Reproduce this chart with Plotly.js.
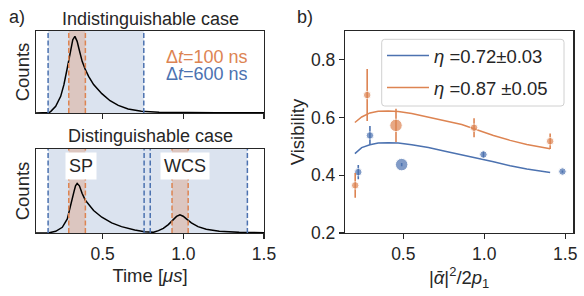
<!DOCTYPE html>
<html><head><meta charset="utf-8">
<script src="https://cdn.plot.ly/plotly-3.0.1.min.js"></script>
<style>html,body{margin:0;padding:0;background:#fff}#chart{width:584px;height:296px}</style>
</head><body><div id="chart"></div><script>
// ---- Panel a) top: indistinguishable case (normalised counts) ----
var timeTop   = [0.087, 0.15, 0.169, 0.179, 0.209, 0.24, 0.26, 0.281, 0.301, 0.315, 0.328, 0.342, 0.352, 0.373, 0.393, 0.413, 0.444, 0.495, 0.546, 0.597, 0.658, 0.74, 0.85, 1.0, 1.2, 1.5];
var countsTop = [0.0, 0.0, 0.005, 0.02, 0.081, 0.203, 0.346, 0.549, 0.752, 0.894, 0.935, 0.874, 0.793, 0.63, 0.528, 0.447, 0.346, 0.236, 0.15, 0.093, 0.049, 0.02, 0.009, 0.005, 0.003, 0.002];
// ---- Panel a) bottom: distinguishable case ----
var timeBottom   = [0.087, 0.15, 0.169, 0.209, 0.25, 0.281, 0.301, 0.322, 0.332, 0.342, 0.356, 0.373, 0.393, 0.413, 0.444, 0.495, 0.556, 0.617, 0.699, 0.76, 0.79, 0.815, 0.846, 0.876, 0.907, 0.938, 0.958, 0.979, 0.999, 1.019, 1.05, 1.091, 1.142, 1.223, 1.346, 1.5];
var countsBottom = [0.0, 0.0, 0.003, 0.02, 0.068, 0.168, 0.309, 0.49, 0.562, 0.59, 0.562, 0.47, 0.389, 0.337, 0.268, 0.188, 0.12, 0.076, 0.036, 0.016, 0.009, 0.008, 0.028, 0.056, 0.1, 0.156, 0.197, 0.217, 0.2, 0.168, 0.12, 0.076, 0.044, 0.02, 0.008, 0.004];
// integration windows [start, end] in µs
var win100Top = [[0.29, 0.393]];
var win600Top = [[0.162, 0.755]];
var win100Bottom = [[0.29, 0.393], [0.93, 1.03]];
var win600Bottom = [[0.162, 0.757], [0.795, 1.397]];
var windowLabels = ['SP', 'WCS'];

// ---- Panel b): visibility ----
var alphaBlue   = [0.222, 0.294, 0.49, 0.995, 1.483];
var visBlue     = [0.411, 0.538, 0.437, 0.472, 0.413];
var errBlue     = [0.025, 0.033, 0.006, 0.01, 0.004];
var alphaOrange = [0.203, 0.277, 0.455, 0.937, 1.407];
var visOrange   = [0.365, 0.678, 0.573, 0.565, 0.518];
var errOrange   = [0.043, 0.09, 0.058, 0.033, 0.027];
var fitX        = [0.201, 0.243, 0.294, 0.345, 0.407, 0.469, 0.552, 0.655, 0.758, 0.861, 0.954, 1.057, 1.16, 1.263, 1.407];
var fitBlue     = [0.475, 0.496, 0.506, 0.512, 0.513, 0.512, 0.506, 0.496, 0.483, 0.471, 0.461, 0.447, 0.433, 0.422, 0.41];
var fitOrange   = [0.583, 0.602, 0.616, 0.622, 0.623, 0.621, 0.614, 0.602, 0.588, 0.576, 0.558, 0.538, 0.521, 0.507, 0.492];
var fitNames    = ['<i>η</i> =0.72±0.03', '<i>η</i> =0.87 ±0.05'];

var BLUE = '#4C72B0', ORANGE = '#DD8452', INK = '#262626';
var FONT = 'Arial, "Liberation Sans", sans-serif';
var W = 584, H = 296;
function px(x){return x / W;}
function py(y){return 1 - y / H;}

var traces = [
  {x: timeTop, y: countsTop, xaxis: 'x', yaxis: 'y', mode: 'lines', line: {color: '#000', width: 1.5}, showlegend: false, hoverinfo: 'skip'},
  {x: timeBottom, y: countsBottom, xaxis: 'x2', yaxis: 'y2', mode: 'lines', line: {color: '#000', width: 1.5}, showlegend: false, hoverinfo: 'skip'},
  {x: fitX, y: fitBlue, xaxis: 'x3', yaxis: 'y3', mode: 'lines', line: {color: BLUE, width: 1.5}, name: fitNames[0], legendgroup: 'a'},
  {x: fitX, y: fitOrange, xaxis: 'x3', yaxis: 'y3', mode: 'lines', line: {color: ORANGE, width: 1.5}, name: fitNames[1], legendgroup: 'b'},
  {x: alphaBlue, y: visBlue, xaxis: 'x3', yaxis: 'y3', mode: 'markers', showlegend: false,
   marker: {color: BLUE, size: alphaBlue.map(function(v,i){return i===2?12.5:7.5;})},
   error_y: {type: 'data', array: errBlue, color: BLUE, thickness: 1.6, width: 0}},
  {x: alphaOrange, y: visOrange, xaxis: 'x3', yaxis: 'y3', mode: 'markers', showlegend: false,
   marker: {color: ORANGE, size: alphaOrange.map(function(v,i){return i===2?12.5:7.5;})},
   error_y: {type: 'data', array: errOrange, color: ORANGE, thickness: 1.6, width: 0}}
];

var shapes = [];
function addWindows(wins, color, opacity, yref, xref){
  wins.forEach(function(w){
    shapes.push({type: 'rect', xref: xref, yref: yref + ' domain', x0: w[0], x1: w[1], y0: 0, y1: 1,
      fillcolor: color, opacity: opacity, line: {width: 0}, layer: 'below'});
  });
}
function addEdges(wins, color, yref, xref){
  wins.forEach(function(w){
    [w[0], w[1]].forEach(function(e){
      shapes.push({type: 'line', xref: xref, yref: yref + ' domain', x0: e, x1: e, y0: 0, y1: 1,
        line: {color: color, width: 1.5, dash: '5px,2.5px'}, layer: 'above'});
    });
  });
}
addWindows(win600Top, BLUE, 0.2, 'y', 'x');
addWindows(win100Top, ORANGE, 0.3, 'y', 'x');
// bottom: blue shading spans both 600 ns windows contiguously
addWindows([[win600Bottom[0][0], win600Bottom[1][1]]], BLUE, 0.2, 'y2', 'x2');
addWindows(win100Bottom, ORANGE, 0.3, 'y2', 'x2');
addEdges(win600Top, BLUE, 'y', 'x');
addEdges(win100Top, ORANGE, 'y', 'x');
addEdges(win600Bottom, BLUE, 'y2', 'x2');
addEdges(win100Bottom, ORANGE, 'y2', 'x2');

// rounded legend frame (matplotlib fancybox look)
(function(){
  var x0 = px(381.7), x1 = px(564), y0 = py(106), y1 = py(39.3), rx = 3 / W, ry = 3 / H;
  var p = 'M' + (x0 + rx) + ',' + y1 + ' L' + (x1 - rx) + ',' + y1 + ' Q' + x1 + ',' + y1 + ' ' + x1 + ',' + (y1 - ry) +
          ' L' + x1 + ',' + (y0 + ry) + ' Q' + x1 + ',' + y0 + ' ' + (x1 - rx) + ',' + y0 +
          ' L' + (x0 + rx) + ',' + y0 + ' Q' + x0 + ',' + y0 + ' ' + x0 + ',' + (y0 + ry) +
          ' L' + x0 + ',' + (y1 - ry) + ' Q' + x0 + ',' + y1 + ' ' + (x0 + rx) + ',' + y1 + ' Z';
  shapes.push({type: 'path', xref: 'paper', yref: 'paper', path: p, fillcolor: 'rgba(255,255,255,0.8)',
    line: {color: '#d0d0d0', width: 1}, layer: 'above'});
})();

var TICK = 17.5, LAB = 18.5;
function boxAxis(extra){
  var a = {showline: true, mirror: true, linecolor: INK, linewidth: 1.25, showgrid: false, zeroline: false,
    ticks: 'outside', ticklen: 5, tickwidth: 1.25, tickcolor: INK,
    tickfont: {family: FONT, size: TICK, color: INK}};
  for (var k in extra) a[k] = extra[k];
  return a;
}
function ttl(t, s){ return {text: t, font: {family: FONT, size: LAB, color: INK}, standoff: s}; }
var leftX = [px(36), px(264)];
var layout = {
  width: W, height: H, margin: {l: 0, r: 0, t: 0, b: 0},
  paper_bgcolor: '#fff', plot_bgcolor: '#fff',
  font: {family: FONT, color: INK},
  showlegend: true,
  legend: {x: px(382), y: py(37), xanchor: 'left', yanchor: 'top', bgcolor: 'rgba(0,0,0,0)',
    borderwidth: 0, font: {family: FONT, size: 18.5, color: INK},
    traceorder: 'grouped', tracegroupgap: 5, itemwidth: 42},
  xaxis: boxAxis({domain: leftX, anchor: 'y', range: [0.087, 1.5], tickvals: [0.5, 1.0, 1.5], showticklabels: false}),
  yaxis: boxAxis({domain: [py(113), py(31)], anchor: 'x', range: [0, 1], ticks: '', showticklabels: false, title: ttl('Counts', 0)}),
  xaxis2: boxAxis({domain: leftX, anchor: 'y2', range: [0.087, 1.5], tickvals: [0.5, 1.0, 1.5], ticktext: ['0.5', '1.0', '1.5'],
    title: ttl('Time [<i>μs</i>]', 5)}),
  yaxis2: boxAxis({domain: [py(233), py(149)], anchor: 'x2', range: [0, 1], ticks: '', showticklabels: false, title: ttl('Counts', 0)}),
  xaxis3: boxAxis({domain: [px(345), px(573.3)], anchor: 'y3', range: [0.14, 1.55], tickvals: [0.5, 1.0, 1.5], ticktext: ['0.5', '1.0', '1.5'],
    title: ttl('|<i>ᾱ</i>|<sup>2</sup>/2<i>p</i><sub>1</sub>', 4)}),
  yaxis3: boxAxis({domain: [py(233), py(31)], anchor: 'x3', range: [0.2, 0.9], tickvals: [0.2, 0.4, 0.6, 0.8], ticktext: ['0.2', '0.4', '0.6', '0.8'],
    title: ttl('Visibility', 1)}),
  shapes: shapes,
  annotations: [
    {text: 'a)', xref: 'paper', yref: 'paper', x: px(7), y: py(17), xanchor: 'left', yanchor: 'middle', showarrow: false, font: {size: 18, color: INK}},
    {text: 'b)', xref: 'paper', yref: 'paper', x: px(295), y: py(17), xanchor: 'left', yanchor: 'middle', showarrow: false, font: {size: 18, color: INK}},
    {text: 'Indistinguishable case', xref: 'paper', yref: 'paper', x: px(150), y: py(18.5), xanchor: 'center', yanchor: 'middle', showarrow: false, font: {size: 18, color: INK}},
    {text: 'Distinguishable case', xref: 'paper', yref: 'paper', x: px(150), y: py(136), xanchor: 'center', yanchor: 'middle', showarrow: false, font: {size: 18, color: INK}},
    {text: 'Δ<i>t</i>=100 ns', xref: 'paper', yref: 'paper', x: px(250), y: py(57), xanchor: 'right', yanchor: 'middle', height: 16, showarrow: false, font: {size: 18, color: ORANGE}},
    {text: 'Δ<i>t</i>=600 ns', xref: 'paper', yref: 'paper', x: px(250), y: py(74), xanchor: 'right', yanchor: 'middle', height: 16, showarrow: false, font: {size: 18, color: BLUE}},
    {text: windowLabels[0], xref: 'paper', yref: 'paper', x: px(81), y: py(166), xanchor: 'center', yanchor: 'middle', showarrow: false, bgcolor: '#fff', borderpad: 3, font: {size: 18, color: INK}},
    {text: windowLabels[1], xref: 'paper', yref: 'paper', x: px(185), y: py(166), xanchor: 'center', yanchor: 'middle', showarrow: false, bgcolor: '#fff', borderpad: 3, font: {size: 18, color: INK}}
  ]
};
Plotly.newPlot('chart', traces, layout, {staticPlot: true, displayModeBar: false});
</script></body></html>
